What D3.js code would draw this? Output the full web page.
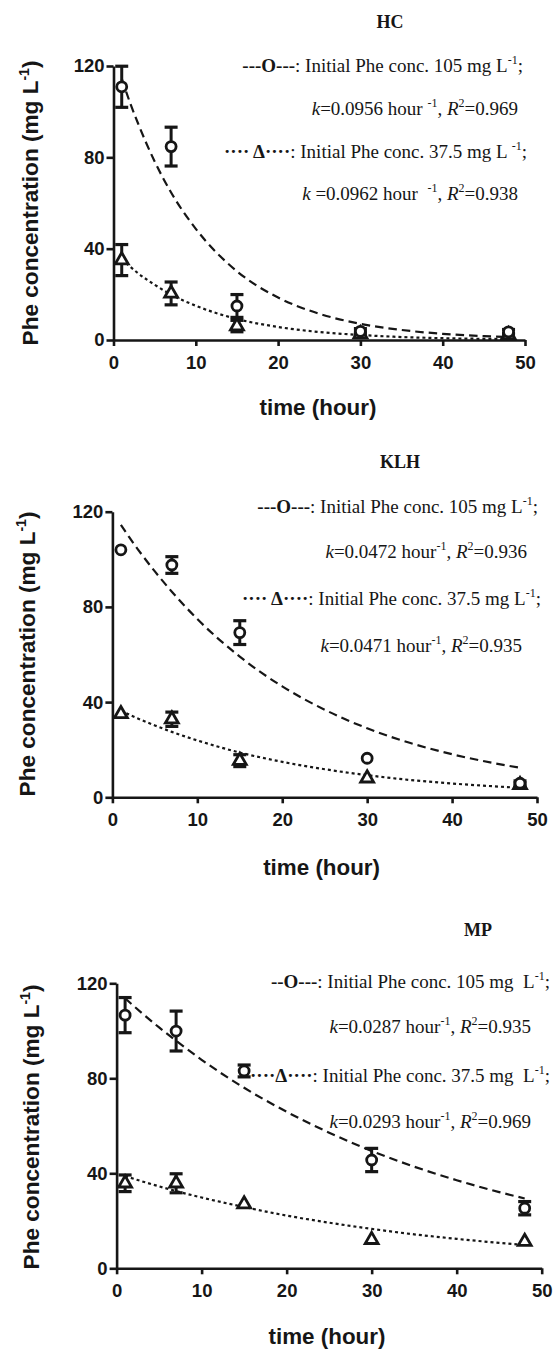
<!DOCTYPE html>
<html><head><meta charset="utf-8">
<script src="https://cdn.jsdelivr.net/npm/d3@7"></script>
<style>body{margin:0;background:#fff}svg{display:block}</style>
</head><body>
<svg id="chart" width="556" height="1349"></svg>
<script>
// ---------- data ----------
const hours = [1, 7, 15, 30, 48];
const fitHours = [1, 2, 3, 5, 7, 10, 15, 20, 25, 30, 35, 40, 45, 48];
const xTicks = [0, 10, 20, 30, 40, 50];
const yTicks = [0, 40, 80, 120];
const panelNames = ["HC", "KLH", "MP"];
const initConc = ["105", "37.5"];

// HC
const hcCircle = [110.9, 84.7, 14.9, 3.8, 3.6];
const hcCircleErr = [9, 8.5, 5, 1.2, 1];
const hcTri = [35.0, 20.4, 6.1, 2.6, 2.2];
const hcTriErr = [6.8, 5, 2.5, 1, 0.8];
const hcFitCircle = [114.5, 104, 94.7, 78.2, 64.6, 48.7, 30.1, 18.6, 11.5, 7.1, 4.4, 2.7, 1.7, 1.3];
const hcFitTri = [35.4, 32.2, 29.2, 24.2, 19.9, 15.0, 9.2, 5.7, 3.5, 2.2, 1.3, 0.8, 0.5, 0.4];
const hcK = ["0.0956", "0.0962"];
const hcR2 = ["0.969", "0.938"];

// KLH
const klhCircle = [104, 97.6, 69.2, 16.4, 5.9];
const klhCircleErr = [0, 3.5, 5, 0, 1];
const klhTri = [35, 32.8, 15.4, 8, 5.2];
const klhTriErr = [0, 3, 2.5, 0, 0.8];
const klhFitCircle = [114.5, 109.2, 104.2, 94.9, 86.4, 74.9, 59.1, 46.6, 36.8, 29.0, 22.9, 18.1, 14.3, 12.4];
const klhFitTri = [36.4, 34.7, 33.1, 30.2, 27.5, 23.9, 18.8, 14.9, 11.8, 9.3, 7.3, 5.8, 4.6, 4.0];
const klhK = ["0.0472", "0.0471"];
const klhR2 = ["0.936", "0.935"];

// MP
const mpCircle = [106.6, 99.9, 83.1, 45.6, 25.3];
const mpCircleErr = [7.4, 8.4, 2.5, 4.9, 2.8];
const mpTri = [35.8, 35.8, 27, 12, 11.2];
const mpTriErr = [3.5, 4, 0, 0, 0];
const mpFitCircle = [113.7, 110.5, 107.4, 101.4, 95.8, 87.8, 76.0, 65.9, 57.1, 49.4, 42.8, 37.1, 32.1, 29.4];
const mpFitTri = [38.8, 37.7, 36.6, 34.5, 32.5, 29.8, 25.8, 22.2, 19.2, 16.6, 14.3, 12.4, 10.7, 9.8];
const mpK = ["0.0287", "0.0293"];
const mpR2 = ["0.935", "0.969"];

// ---------- layout ----------
const layouts = [
  { x0: 113.5, x1: 525, yb: 340, yt: 66,
    title: [390, 28], yl: [30.5, 203], xl: [318, 415],
    leg: [[523, 72], [518, 115], [527, 158], [518, 200]],
    sp: ["", " ", " ", "  "], mark: ["---O---", "···· Δ····"], mg: "mg L", kEq: ["=", " ="] },
  { x0: 112.4, x1: 537, yb: 797.3, yt: 511.7,
    title: [400, 468], yl: [27.5, 654], xl: [321.6, 875],
    leg: [[538, 512.7], [527, 558.3], [541, 605], [522, 651.7]],
    sp: ["", "", "", ""], mark: ["---O---", "···· Δ····"], mg: "mg L", kEq: ["=", "="] },
  { x0: 116.6, x1: 541.7, yb: 1268.3, yt: 983.3,
    title: [478, 936], yl: [31, 1127], xl: [327, 1344],
    leg: [[550, 988], [531, 1033], [550, 1081.7], [531, 1128]],
    sp: ["", "", "", ""], mark: ["--O---", "····Δ····"], mg: "mg  L", kEq: ["=", "="] }
];

const panels = [
  { circle: hcCircle, cErr: hcCircleErr, tri: hcTri, tErr: hcTriErr, fitC: hcFitCircle, fitT: hcFitTri, k: hcK, r2: hcR2 },
  { circle: klhCircle, cErr: klhCircleErr, tri: klhTri, tErr: klhTriErr, fitC: klhFitCircle, fitT: klhFitTri, k: klhK, r2: klhR2 },
  { circle: mpCircle, cErr: mpCircleErr, tri: mpTri, tErr: mpTriErr, fitC: mpFitCircle, fitT: mpFitTri, k: mpK, r2: mpR2 }
];

const svg = d3.select("#chart");
const SANS = '"Liberation Sans", Arial, Helvetica, sans-serif';
const SERIF = '"Liberation Serif", "Times New Roman", Times, serif';
const INK = "#161616";

function richText(g, x, y, parts) {
  const t = g.append("text").attr("x", x).attr("y", y)
    .attr("text-anchor", "end").attr("font-family", SERIF).attr("font-size", 19)
    .attr("fill", INK).style("white-space", "pre");
  let shift = 0;
  parts.forEach(p => {
    const ts = t.append("tspan").text(p.t);
    const target = p.sup ? -8 : 0;
    if (target !== shift) { ts.attr("dy", target - shift); shift = target; }
    if (p.sup) ts.attr("font-size", 12);
    if (p.b) ts.attr("font-weight", "bold");
    if (p.i) ts.attr("font-style", "italic");
  });
}

panels.forEach((P, i) => {
  const L = layouts[i];
  const g = svg.append("g");
  const x = d3.scaleLinear().domain([0, 50]).range([L.x0, L.x1]);
  const y = d3.scaleLinear().domain([0, 120]).range([L.yb, L.yt]);

  // axes
  const ya = g.append("g").attr("transform", `translate(${L.x0},0)`)
    .call(d3.axisLeft(y).tickValues(yTicks).tickSize(7).tickSizeOuter(0).tickPadding(2));
  const xa = g.append("g").attr("transform", `translate(0,${L.yb})`)
    .call(d3.axisBottom(x).tickValues(xTicks).tickSize(6).tickSizeOuter(0).tickPadding(10));
  [ya, xa].forEach(a => {
    a.selectAll("path,line").attr("stroke", INK).attr("stroke-width", 2.6);
    a.selectAll("text").attr("font-family", SANS).attr("font-weight", "bold")
      .attr("font-size", 18.5).attr("fill", INK);
  });

  // fitted curves
  const line = d3.line().x(d => x(d[0])).y(d => y(d[1])).curve(d3.curveMonotoneX);
  g.append("path").attr("d", line(fitHours.map((h, j) => [h, P.fitC[j]])))
    .attr("fill", "none").attr("stroke", INK).attr("stroke-width", 2.2)
    .attr("stroke-dasharray", "8.5,5");
  g.append("path").attr("d", line(fitHours.map((h, j) => [h, P.fitT[j]])))
    .attr("fill", "none").attr("stroke", INK).attr("stroke-width", 2.2)
    .attr("stroke-dasharray", "3,3");

  // error bars
  function errBars(vals, errs) {
    hours.forEach((h, j) => {
      if (!errs[j]) return;
      const cx = x(h), top = y(vals[j] + errs[j]), bot = y(vals[j] - errs[j]);
      g.append("line").attr("x1", cx).attr("x2", cx).attr("y1", top).attr("y2", bot)
        .attr("stroke", INK).attr("stroke-width", 3);
      [top, bot].forEach(yy => g.append("line").attr("x1", cx - 6.5).attr("x2", cx + 6.5)
        .attr("y1", yy).attr("y2", yy).attr("stroke", INK).attr("stroke-width", 3.2));
    });
  }
  errBars(P.tri, P.tErr);
  errBars(P.circle, P.cErr);

  // markers
  const tri = d3.symbol(d3.symbolTriangle, 72);
  hours.forEach((h, j) => {
    g.append("path").attr("d", tri()).attr("transform", `translate(${x(h)},${y(P.tri[j])})`)
      .attr("fill", "#fff").attr("stroke", INK).attr("stroke-width", 2.8);
  });
  hours.forEach((h, j) => {
    g.append("circle").attr("cx", x(h)).attr("cy", y(P.circle[j])).attr("r", 5)
      .attr("fill", "#fff").attr("stroke", INK).attr("stroke-width", 2.8);
  });

  // title
  g.append("text").attr("x", L.title[0]).attr("y", L.title[1]).attr("text-anchor", "middle")
    .attr("font-family", SERIF).attr("font-weight", "bold").attr("font-size", 18)
    .attr("fill", INK).text(panelNames[i]);

  // axis titles
  const yl = g.append("text").attr("transform", `translate(${L.yl[0]},${L.yl[1]}) rotate(-90)`)
    .attr("text-anchor", "middle").attr("dy", "0.35em")
    .attr("font-family", SANS).attr("font-weight", "bold").attr("font-size", 22.6).attr("fill", INK);
  yl.append("tspan").text("Phe concentration (mg L");
  yl.append("tspan").text("-1").attr("font-size", 14).attr("dy", -9);
  yl.append("tspan").text(")").attr("dy", 9);
  g.append("text").attr("x", L.xl[0]).attr("y", L.xl[1]).attr("text-anchor", "middle")
    .attr("font-family", SANS).attr("font-weight", "bold").attr("font-size", 22.4)
    .attr("fill", INK).text("time (hour)");

  // legend
  richText(g, L.leg[0][0], L.leg[0][1], [
    { t: L.mark[0], b: 1 }, { t: ": Initial Phe conc. " + initConc[0] + " " + L.mg },
    { t: "-1", sup: 1 }, { t: ";" }]);
  richText(g, L.leg[1][0], L.leg[1][1], [
    { t: "k", i: 1 }, { t: L.kEq[0] + P.k[0] + " hour" + L.sp[1] }, { t: "-1", sup: 1 },
    { t: ", " }, { t: "R", i: 1 }, { t: "2", sup: 1 }, { t: "=" + P.r2[0] }]);
  richText(g, L.leg[2][0], L.leg[2][1], [
    { t: L.mark[1], b: 1 }, { t: ": Initial Phe conc. " + initConc[1] + " " + L.mg + (i === 0 ? " " : "") },
    { t: "-1", sup: 1 }, { t: ";" }]);
  richText(g, L.leg[3][0], L.leg[3][1], [
    { t: "k", i: 1 }, { t: L.kEq[1] + P.k[1] + " hour" + L.sp[3] }, { t: "-1", sup: 1 },
    { t: ", " }, { t: "R", i: 1 }, { t: "2", sup: 1 }, { t: "=" + P.r2[1] }]);
});
</script>
</body></html>
